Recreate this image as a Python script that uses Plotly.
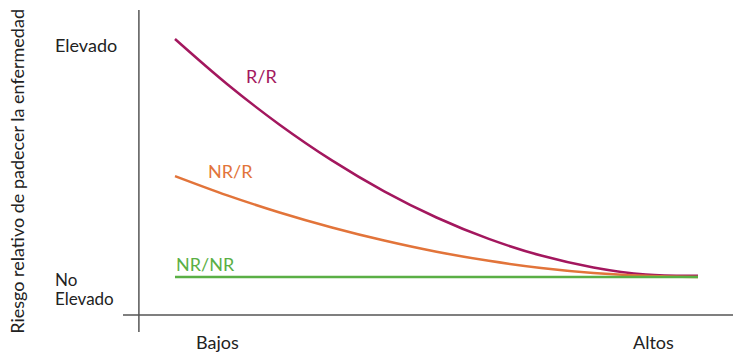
import plotly.graph_objects as go

# Data
x_vals = [0, 1, 2, 3, 4, 5, 6, 7, 8, 9, 10]
rr_vals = [10.0, 8.1, 6.4, 4.9, 3.6, 2.5, 1.6, 0.9, 0.4, 0.1, 0.05]
nrr_vals = [4.24, 3.43, 2.71, 2.08, 1.53, 1.06, 0.68, 0.38, 0.17, 0.05, 0.0]
nrnr_vals = [0, 0, 0, 0, 0, 0, 0, 0, 0, 0, 0]

series_names = ["R/R", "NR/R", "NR/NR"]
series_colors = ["#a3175e", "#e2743a", "#5aaf45"]
x_tick_labels = ["Bajos", "Altos"]
y_tick_labels = ["Elevado", "No", "Elevado"]
y_title = "Riesgo relativo de padecer la enfermedad"

FONT = "Lato, Open Sans, sans-serif"
TXT = "#222"

fig = go.Figure()
for name, vals, col in zip(series_names, [rr_vals, nrr_vals, nrnr_vals], series_colors):
    fig.add_trace(go.Scatter(x=x_vals, y=vals, mode="lines", name=name,
                             line=dict(color=col, width=2.5, shape="spline"),
                             hoverinfo="skip"))

# series labels
label_pos = [(1.66, 8.45), (1.07, 4.45), (0.59, 0.55)]
for name, col, (lx, ly) in zip(series_names, series_colors, label_pos):
    fig.add_annotation(x=lx, y=ly, text=name, showarrow=False,
                       font=dict(family=FONT, size=18, color=col))

# x category labels
for lab, px in zip(x_tick_labels, [0.1537, 0.859]):
    fig.add_annotation(xref="paper", yref="paper", x=px, y=-0.031, text=lab,
                       showarrow=False, xanchor="center", yanchor="middle",
                       font=dict(family=FONT, size=18, color=TXT))

# y category labels
for lab, py, sz in zip(y_tick_labels, [9.75, -0.10, -0.90], [18, 17, 17]):
    fig.add_annotation(xref="paper", x=-0.114, y=py, text=lab, showarrow=False,
                       xanchor="left", yanchor="middle",
                       font=dict(family=FONT, size=sz, color=TXT))

# axis lines
fig.add_shape(type="line", x0=-0.69, x1=-0.69, y0=-2.4, y1=11.3,
              line=dict(color="#555", width=1.5))
fig.add_shape(type="line", x0=-1.1, x1=11.0, y0=-1.6, y1=-1.6,
              line=dict(color="#555", width=1.5))

fig.update_layout(
    width=733, height=350,
    margin=dict(l=115, r=0, t=2, b=26),
    plot_bgcolor="white", paper_bgcolor="white",
    showlegend=False,
    xaxis=dict(range=[-0.994, 10.822], visible=False),
    yaxis=dict(range=[-2.311, 11.218], showticklabels=False, showgrid=False,
               zeroline=False, showline=False, ticks=""),
)
fig.add_annotation(xref="paper", yref="paper", x=-0.172, y=0.50, text=y_title,
                   textangle=-90, showarrow=False, xanchor="center", yanchor="middle",
                   font=dict(family=FONT, size=18, color=TXT))

fig.write_html("out.html")
